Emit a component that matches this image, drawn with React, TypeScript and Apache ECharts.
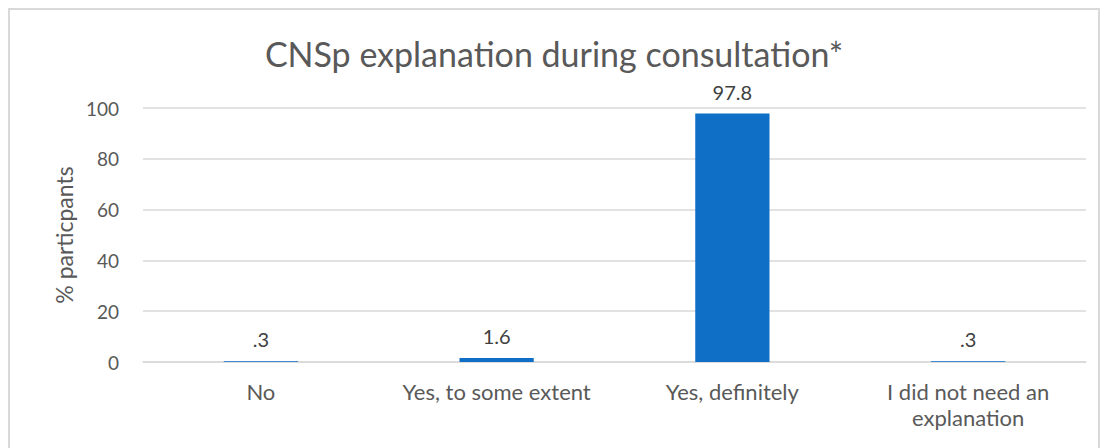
import React, { useEffect, useRef } from "react";
import * as echarts from "echarts";

const categories = ["No", "Yes, to some extent", "Yes, definitely", "I did not need an\nexplanation"];
const values = [0.3, 1.6, 97.8, 0.3];
const yTicks = [0, 20, 40, 60, 80, 100];
const titleText = "CNSp explanation during consultation*";
const yAxisName = "% particpants";

export default function App() {
  const ref = useRef<HTMLDivElement>(null);
  useEffect(() => {
    if (!ref.current) return;
    const chart = echarts.init(ref.current, undefined, { renderer: "svg" });
    const font = "Lato, 'Open Sans', sans-serif";
    chart.setOption({
      animation: false,
      title: {
        text: titleText,
        left: "center",
        top: 21,
        textStyle: { fontFamily: font, fontSize: 34, fontWeight: "normal", color: "#595959" },
      },
      grid: { left: 133, right: 12, top: 98, bottom: 86 },
      xAxis: {
        type: "category",
        data: categories,
        axisLine: { lineStyle: { color: "#d9d9d9", width: 1.5 } },
        axisTick: { show: false },
        axisLabel: { fontFamily: font, fontSize: 22, color: "#595959", margin: 16, lineHeight: 26, interval: 0 },
      },
      yAxis: {
        type: "value",
        min: yTicks[0],
        max: yTicks[yTicks.length - 1],
        interval: 20,
        name: yAxisName,
        nameLocation: "middle",
        nameGap: 66,
        nameTextStyle: { fontFamily: font, fontSize: 23, color: "#595959" },
        axisLine: { show: false },
        axisTick: { show: false },
        axisLabel: { fontFamily: font, fontSize: 19, color: "#595959", margin: 24 },
        splitLine: { lineStyle: { color: "#d9d9d9", width: 1.5 } },
      },
      series: [
        {
          type: "bar",
          data: values,
          barWidth: "31.5%",
          itemStyle: { color: "#0F6FC6" },
          label: {
            show: true,
            position: "top",
            distance: 12,
            fontFamily: font,
            fontSize: 20,
            color: "#404040",
            formatter: (p: any) => String(p.value).replace(/^0\./, "."),
          },
        },
      ],
    });
    return () => chart.dispose();
  }, []);
  return (
    <div style={{ width: 1092, height: 442, border: "2px solid #d9d9d9", boxSizing: "border-box", background: "#fff" }}>
      <div ref={ref} style={{ width: 1088, height: 438 }} />
    </div>
  );
}
